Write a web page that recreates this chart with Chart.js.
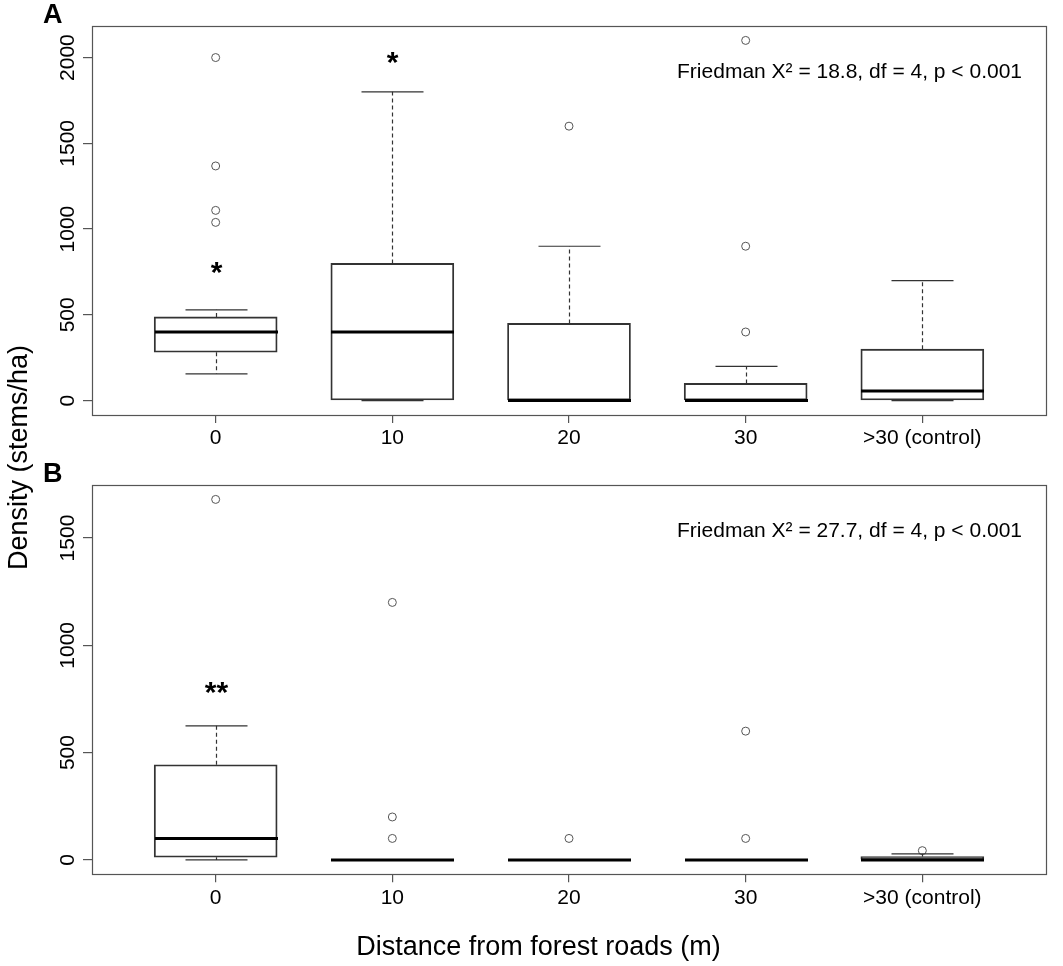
<!DOCTYPE html>
<html><head><meta charset="utf-8">
<script src="https://cdn.jsdelivr.net/npm/chart.js@4.4.1/dist/chart.umd.min.js"></script>
<style>
html,body{margin:0;padding:0;background:#fff;}
#wrap{position:relative;width:1063px;height:966px;background:#fff;}
canvas{position:absolute;left:0;top:0;}
</style></head><body>
<div id="wrap"><canvas id="cA" width="1063" height="966"></canvas><canvas id="cB" width="1063" height="966"></canvas></div>
<script>
// ---------- data ----------
const categories = ['0', '10', '20', '30', '>30 (control)'];
const positions = [1, 2, 3, 4, 5];
const yTicksA = [0, 500, 1000, 1500, 2000];
const yTicksB = [0, 500, 1000, 1500];

// Panel A
const lowA = [156, 0, 0, 0, 0];
const q1A = [282, 0, 0, 0, 0];
const medA = [400, 400, 0, 0, 56];
const q3A = [488, 800, 450, 100, 300];
const highA = [529, 1800, 900, 200, 700];
const outA = [[2000, 1368, 1109, 1039], [], [1600], [400, 900, 2100], []];
const sigA = ['*', '*', '', '', ''];
const sigYA = [759, 1985, null, null, null];
const statA = 'Friedman X\u00B2 = 18.8, df = 4, p < 0.001';

// Panel B
const lowB = [0, 0, 0, 0, 0];
const q1B = [12.5, 0, 0, 0, 0];
const medB = [100, 0, 0, 0, 0];
const q3B = [443, 0, 0, 0, 15];
const highB = [625, 0, 0, 0, 28];
const outB = [[1680], [1200, 200, 100], [100], [600, 100], [43]];
const sigB = ['**', '', '', '', ''];
const sigYB = [793, null, null, null, null];
const statB = 'Friedman X\u00B2 = 27.7, df = 4, p < 0.001';

const xTitle = 'Distance from forest roads (m)';
const yTitle = 'Density (stems/ha)';

// ---------- drawing ----------
const FONT = "'Liberation Sans', Arial, sans-serif";
const BOX_W = 123;
const CAP_HALF = 31;

function dataRange(lists) {
  let lo = Infinity, hi = -Infinity;
  lists.flat(2).forEach(v => { if (v < lo) lo = v; if (v > hi) hi = v; });
  const ext = (hi - lo) * 0.04;
  return [lo - ext, hi + ext];
}

const boxPlugin = {
  id: 'boxExtras',
  afterDatasetsDraw(chart, args, o) {
    const ctx = chart.ctx, xs = chart.scales.x, ys = chart.scales.y;
    ctx.save();
    ctx.strokeStyle = '#333';
    ctx.lineWidth = 1.2;
    for (let i = 0; i < positions.length; i++) {
      const cx = Math.round(xs.getPixelForValue(positions[i])) + 0.5;
      const yq1 = ys.getPixelForValue(o.q1[i]), yq3 = ys.getPixelForValue(o.q3[i]);
      const ylo = ys.getPixelForValue(o.low[i]), yhi = ys.getPixelForValue(o.high[i]);
      ctx.setLineDash([4, 3]);
      ctx.beginPath();
      if (o.high[i] > o.q3[i]) { ctx.moveTo(cx, yq3); ctx.lineTo(cx, yhi); }
      if (o.low[i] < o.q1[i]) { ctx.moveTo(cx, yq1); ctx.lineTo(cx, ylo); }
      ctx.stroke();
      ctx.setLineDash([]);
      ctx.beginPath();
      ctx.moveTo(cx - CAP_HALF, yhi); ctx.lineTo(cx + CAP_HALF, yhi);
      ctx.moveTo(cx - CAP_HALF, ylo); ctx.lineTo(cx + CAP_HALF, ylo);
      ctx.stroke();
      ctx.save();
      ctx.strokeStyle = '#000';
      ctx.lineWidth = 3;
      const ym = ys.getPixelForValue(o.med[i]);
      ctx.beginPath();
      ctx.moveTo(cx - BOX_W / 2, ym); ctx.lineTo(cx + BOX_W / 2, ym);
      ctx.stroke();
      ctx.restore();
      if (o.sig[i]) {
        const fs = 30;
        ctx.fillStyle = '#000';
        ctx.font = 'bold ' + fs + 'px ' + FONT;
        ctx.textAlign = 'center';
        ctx.textBaseline = 'alphabetic';
        ctx.fillText(o.sig[i], cx, ys.getPixelForValue(o.sigY[i]) + 0.4 * fs);
      }
    }
    ctx.restore();
  },
  afterDraw(chart, args, o) {
    const ctx = chart.ctx, a = chart.chartArea, ys = chart.scales.y;
    ctx.save();
    // frame
    ctx.strokeStyle = '#555';
    ctx.lineWidth = 1.2;
    ctx.strokeRect(Math.round(a.left) + 0.5, Math.round(a.top) + 0.5, Math.round(a.right - a.left), Math.round(a.bottom - a.top));
    // y tick labels (rotated)
    ctx.fillStyle = '#000';
    ctx.font = '21px ' + FONT;
    ctx.textAlign = 'center';
    ctx.textBaseline = 'alphabetic';
    ys.ticks.forEach(t => {
      const py = ys.getPixelForValue(t.value);
      ctx.save();
      ctx.translate(a.left - 18, py);
      ctx.rotate(-Math.PI / 2);
      ctx.fillText(String(t.value), 0, 0);
      ctx.restore();
    });
    // stats text
    ctx.textAlign = 'right';
    ctx.fillText(o.stat, a.right - 24, a.top + 51.5);
    // panel label
    ctx.font = 'bold 27px ' + FONT;
    ctx.textAlign = 'left';
    ctx.fillText(o.panel, 43, a.top - 3);
    // shared axis titles
    if (o.titles) {
      ctx.font = '27px ' + FONT;
      ctx.textAlign = 'center';
      ctx.fillText(xTitle, 538.5, 955);
      ctx.save();
      ctx.translate(27, 457.5);
      ctx.rotate(-Math.PI / 2);
      ctx.fillText(yTitle, 0, 0);
      ctx.restore();
    }
    ctx.restore();
  }
};

function makeChart(id, s, yTicks, pad, xH, panel, titles) {
  const [ymin, ymax] = dataRange([s.low, s.high, s.out]);
  const outPts = [];
  s.out.forEach((arr, i) => arr.forEach(v => outPts.push({ x: positions[i], y: v })));
  return new Chart(document.getElementById(id), {
    type: 'bar',
    data: {
      datasets: [
        {
          type: 'bar',
          data: positions.map((x, i) => ({ x: x, y: [s.q1[i], s.q3[i]] })),
          backgroundColor: 'rgba(255,255,255,0)',
          borderColor: '#333',
          borderWidth: 1.2,
          borderSkipped: false,
          barThickness: BOX_W,
          grouped: false
        },
        {
          type: 'scatter',
          data: outPts,
          pointStyle: 'circle',
          pointRadius: 4,
          pointBorderWidth: 1,
          pointBorderColor: '#555',
          pointBackgroundColor: 'rgba(255,255,255,0)'
        }
      ]
    },
    options: {
      responsive: false,
      animation: false,
      devicePixelRatio: 1,
      layout: { padding: pad },
      plugins: {
        legend: { display: false },
        tooltip: { enabled: false },
        boxExtras: Object.assign({ panel: panel, titles: titles }, s)
      },
      scales: {
        x: {
          type: 'linear',
          min: 0.5 - 0.04 * positions.length,
          max: positions.length + 0.5 + 0.04 * positions.length,
          offset: false,
          afterBuildTicks: sc => { sc.ticks = positions.map(v => ({ value: v })); },
          afterFit: sc => { sc.height = xH; },
          ticks: {
            autoSkip: false, maxRotation: 0, minRotation: 0, padding: 3,
            color: '#000', font: { family: FONT, size: 21 },
            callback: v => { const k = positions.indexOf(v); return k >= 0 ? categories[k] : ''; }
          },
          grid: { offset: false, drawOnChartArea: false, drawTicks: true, tickLength: 8, color: '#555', lineWidth: 1.2 },
          border: { display: false }
        },
        y: {
          type: 'linear',
          min: ymin,
          max: ymax,
          afterBuildTicks: sc => { sc.ticks = yTicks.map(v => ({ value: v })); },
          afterFit: sc => { sc.width = 92; },
          ticks: { display: false },
          grid: { drawOnChartArea: false, drawTicks: true, tickLength: 9, color: '#555', lineWidth: 1.2 },
          border: { display: false }
        }
      }
    },
    plugins: [boxPlugin]
  });
}

makeChart('cA', { low: lowA, q1: q1A, med: medA, q3: q3A, high: highA, out: outA, sig: sigA, sigY: sigYA, stat: statA },
  yTicksA, { top: 26, right: 17, left: 0, bottom: 500 }, 51, 'A', false);
makeChart('cB', { low: lowB, q1: q1B, med: medB, q3: q3B, high: highB, out: outB, sig: sigB, sigY: sigYB, stat: statB },
  yTicksB, { top: 485, right: 17, left: 0, bottom: 0 }, 91.7, 'B', true);
</script>
</body></html>
